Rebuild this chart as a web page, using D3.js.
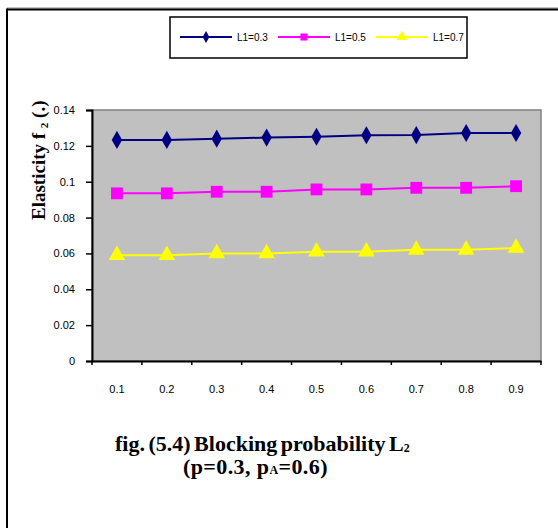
<!DOCTYPE html>
<html><head><meta charset="utf-8">
<script src="https://cdn.jsdelivr.net/npm/d3@7"></script>
<style>body{margin:0;background:#fff}svg{display:block}</style>
</head><body>
<script>
const categories = ["0.1","0.2","0.3","0.4","0.5","0.6","0.7","0.8","0.9"];
const seriesNames = ["L1=0.3","L1=0.5","L1=0.7"];
const valuesL03 = [0.1233,0.1233,0.1240,0.1246,0.1251,0.1259,0.1260,0.1272,0.1272];
const valuesL05 = [0.0935,0.0935,0.0944,0.0944,0.0957,0.0957,0.0966,0.0966,0.0975];
const valuesL07 = [0.059,0.059,0.060,0.060,0.061,0.061,0.062,0.062,0.063];
const yTicks = [0,0.02,0.04,0.06,0.08,0.1,0.12,0.14];
const colors = ["#000080","#FF00FF","#FFFF00"];
const symbols = [d3.symbolDiamond, d3.symbolSquare, d3.symbolTriangle];
const symSizes = [95, 140, 120];
const series = [valuesL03, valuesL05, valuesL07];

const W=558,H=528;
const svg=d3.select("body").append("svg").attr("width",W).attr("height",H);
// outer frame
svg.append("line").attr("x1",7).attr("x2",W).attr("y1",8).attr("y2",8).attr("stroke","#888").attr("stroke-width",1);
svg.append("line").attr("x1",7).attr("x2",W).attr("y1",9.5).attr("y2",9.5).attr("stroke","#000").attr("stroke-width",2);
svg.append("line").attr("x1",7).attr("x2",7).attr("y1",8.5).attr("y2",H).attr("stroke","#000").attr("stroke-width",2);

const L=92,R=541,T=110,B=361;
const x=d3.scaleBand().domain(categories).range([L,R]);
const y=d3.scaleLinear().domain([0,0.14]).range([B,T]);

svg.append("rect").attr("x",L).attr("y",T).attr("width",R-L).attr("height",B-T).attr("fill","#C0C0C0").attr("stroke","#808080").attr("stroke-width",1.5);

// y axis
const ya=svg.append("g").attr("transform",`translate(${L},0)`)
 .call(d3.axisLeft(y).tickValues(yTicks).tickSize(6).tickFormat(d=>d===0?"0":String(+d.toFixed(2))));
ya.select(".domain").attr("stroke","#000").attr("stroke-width",2);
ya.selectAll(".tick line").attr("stroke","#000").attr("stroke-width",1.5);
ya.selectAll("text").attr("font-family","Liberation Sans, Arial").attr("font-size",11).attr("fill","#000").attr("x",-17);

// x axis
const xa=svg.append("g").attr("transform",`translate(0,${B})`)
 .call(d3.axisBottom(x).tickSize(0).tickSizeOuter(0));
xa.select(".domain").attr("stroke","#000").attr("stroke-width",2);
xa.selectAll("text").attr("font-family","Liberation Sans, Arial").attr("font-size",11).attr("fill","#000").attr("dy",0).attr("y",32);
// boundary ticks
const bounds = categories.map(c=>x(c)).concat([R]);
svg.append("g").selectAll("line").data(bounds).join("line")
 .attr("x1",d=>d).attr("x2",d=>d).attr("y1",B).attr("y2",B+4).attr("stroke","#000").attr("stroke-width",1.5);

// series
const line=d3.line().x((d,i)=>x(categories[i])+x.bandwidth()/2).y(d=>y(d));
series.forEach((vals,k)=>{
  svg.append("path").datum(vals).attr("d",line).attr("fill","none").attr("stroke",colors[k]).attr("stroke-width",2);
  svg.append("g").selectAll("path").data(vals).join("path")
   .attr("d",d3.symbol().type(symbols[k]).size(symSizes[k]))
   .attr("transform",(d,i)=>`translate(${x(categories[i])+x.bandwidth()/2},${y(d)})`)
   .attr("fill",colors[k]);
});

// legend
const lg=svg.append("g");
lg.append("rect").attr("x",170).attr("y",17).attr("width",297).attr("height",41).attr("fill","#fff").attr("stroke","#000").attr("stroke-width",1.5);
const lx=[180,278,376];
seriesNames.forEach((n,k)=>{
  lg.append("line").attr("x1",lx[k]).attr("x2",lx[k]+52).attr("y1",37).attr("y2",37).attr("stroke",colors[k]).attr("stroke-width",2);
  lg.append("path").attr("d",d3.symbol().type(symbols[k]).size([40,50,50][k])).attr("transform",`translate(${lx[k]+26},37)`).attr("fill",colors[k]);
  lg.append("text").attr("x",lx[k]+57).attr("y",41).attr("font-family","Liberation Sans, Arial").attr("font-size",10).text(n);
});

// y title
const yt=svg.append("text").attr("transform","translate(45,220) rotate(-90)")
 .attr("font-family","Liberation Serif, Times New Roman").attr("font-weight","bold").attr("font-size",19);
yt.append("tspan").text("Elasticity f ");
yt.append("tspan").attr("font-size",11).attr("dy",3).text("2");
yt.append("tspan").attr("dy",-3).text(" (.)");

// caption
const c1=svg.append("text").attr("x",115).attr("y",451).attr("font-family","Liberation Serif, Times New Roman").attr("font-weight","bold").attr("font-size",22).attr("word-spacing",-2);
c1.append("tspan").text("fig. (5.4) Blocking probability L");
c1.append("tspan").attr("font-size",12).attr("dy",1).text("2");
const c2=svg.append("text").attr("x",183).attr("y",474).attr("font-family","Liberation Serif, Times New Roman").attr("font-weight","bold").attr("font-size",22).attr("letter-spacing",0.4);
c2.append("tspan").text("(p=0.3, p");
c2.append("tspan").attr("font-size",12).text("A");
c2.append("tspan").text("=0.6)");
</script>
</body></html>
